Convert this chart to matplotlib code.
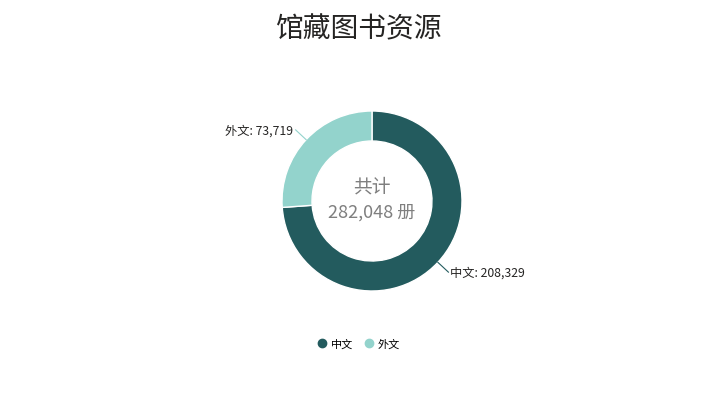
import numpy as np
import matplotlib.pyplot as plt
from matplotlib.lines import Line2D

plt.rcParams['font.family'] = ['Noto Sans CJK SC', 'DejaVu Sans']

title = "馆藏图书资源"
categories = ["中文", "外文"]
values = [208329, 73719]
colors = ["#235B5E", "#93D3CC"]
unit = "册"

W, H = 716, 402
fig = plt.figure(figsize=(W / 100, H / 100), dpi=100)

# pie centre / radius in pixels
cx, cy, R = 372, 202, 90
half = 160
ax = fig.add_axes([(cx - half) / W, 1 - (cy + half) / H, 2 * half / W, 2 * half / H])

wedges, _ = ax.pie(values, colors=colors, startangle=90, counterclock=False, radius=1,
                   wedgeprops=dict(width=1 / 3, edgecolor='white', linewidth=1))
ax.set_xlim(-half / R, half / R)
ax.set_ylim(-half / R, half / R)
ax.set_aspect('equal')
ax.axis('off')

total = sum(values)
ax.text(0, 0.17, "共计", ha='center', va='center', fontsize=13.5, color='#7f7f7f')
ax.text(0, -0.12, f"{total:,} {unit}", ha='center', va='center', fontsize=13, color='#7f7f7f')

for w, cat, v in zip(wedges, categories, values):
    ang = np.deg2rad((w.theta1 + w.theta2) / 2)
    x0, y0 = np.cos(ang), np.sin(ang)
    x1, y1 = 1.16 * x0, 1.16 * y0
    ax.plot([x0, x1], [y0, y1], color=w.get_facecolor(), lw=0.8)
    ha = 'left' if x0 > 0 else 'right'
    dx = 0.02 if x0 > 0 else -0.03
    ax.text(x1 + dx, y1, f"{cat}: {v:,}", ha=ha, va='center', fontsize=8.8, color='#252423')

fig.text(358 / W, 1 - 29 / H, title, ha='center', va='center', fontsize=20, color='#252423')

handles = [Line2D([], [], marker='o', ls='', color=c, markersize=6) for c in colors]
fig.legend(handles, categories, loc='center', bbox_to_anchor=(358 / W, 1 - 345 / H), ncol=2,
           frameon=False, fontsize=8, handletextpad=0.3, columnspacing=0.9, handlelength=1.0)

fig.savefig("out.png", dpi=100)
